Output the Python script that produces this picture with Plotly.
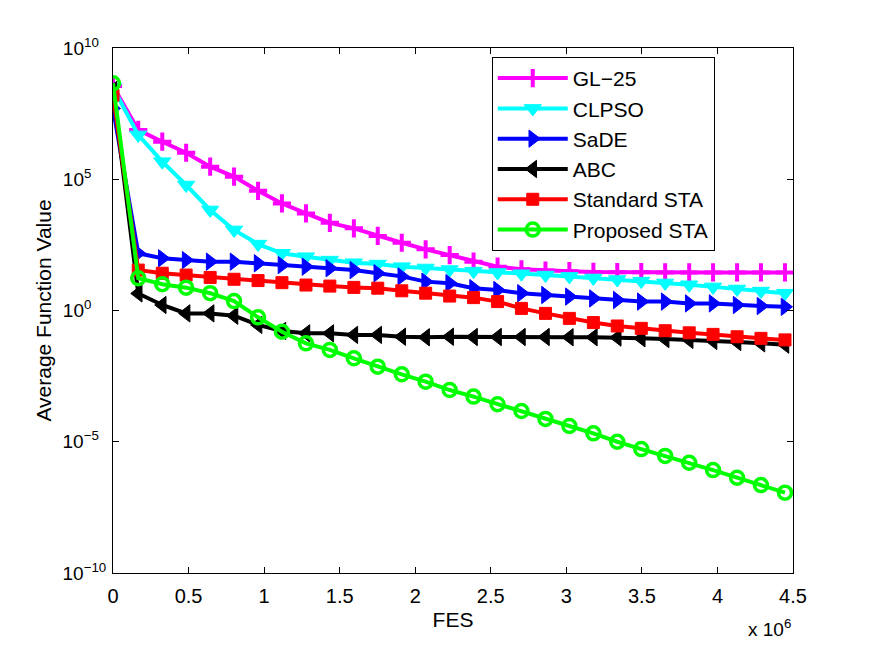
import plotly.graph_objects as go

# FES sample points (function evaluations)
fes = [0, 0.167e6, 0.326e6, 0.484e6, 0.643e6, 0.801e6, 0.960e6, 1.118e6, 1.277e6,
       1.435e6, 1.594e6, 1.752e6, 1.911e6, 2.069e6, 2.228e6, 2.386e6, 2.545e6,
       2.703e6, 2.862e6, 3.020e6, 3.179e6, 3.337e6, 3.496e6, 3.654e6, 3.813e6,
       3.971e6, 4.130e6, 4.288e6, 4.447e6]

# Average function values, given as log10 exponents
gl25_exp = [8.55, 6.88, 6.43, 6.01, 5.48, 5.10, 4.56, 4.08, 3.70, 3.34, 3.13, 2.84,
            2.58, 2.33, 2.11, 1.86, 1.67, 1.57, 1.52, 1.50, 1.47, 1.46, 1.46, 1.45,
            1.45, 1.45, 1.45, 1.45, 1.45]
clpso_exp = [8.50, 6.69, 5.67, 4.78, 3.83, 3.07, 2.53, 2.18, 2.05, 1.92, 1.82, 1.77,
             1.67, 1.62, 1.56, 1.50, 1.45, 1.40, 1.35, 1.30, 1.24, 1.18, 1.12, 1.05,
             0.98, 0.90, 0.82, 0.74, 0.66]
sade_exp = [7.70, 2.18, 1.99, 1.92, 1.86, 1.86, 1.80, 1.73, 1.67, 1.61, 1.54, 1.42,
            1.30, 1.10, 1.04, 0.85, 0.78, 0.66, 0.59, 0.53, 0.46, 0.40, 0.34, 0.34,
            0.27, 0.27, 0.21, 0.17, 0.14]
abc_exp = [8.40, 0.65, 0.21, -0.11, -0.11, -0.20, -0.55, -0.78, -0.87, -0.87, -0.93,
           -0.93, -1.00, -1.02, -1.00, -1.01, -1.01, -1.01, -1.01, -1.02, -1.02, -1.03,
           -1.06, -1.09, -1.12, -1.16, -1.20, -1.25, -1.30]
sta_exp = [8.20, 1.54, 1.42, 1.35, 1.26, 1.19, 1.14, 1.06, 0.97, 0.93, 0.88, 0.85,
           0.75, 0.66, 0.55, 0.49, 0.34, 0.08, -0.11, -0.30, -0.46, -0.59, -0.68,
           -0.77, -0.85, -0.91, -1.00, -1.06, -1.12]
psta_exp = [8.655, 1.23, 1.00, 0.87, 0.66, 0.36, -0.26, -0.81, -1.25, -1.50, -1.82,
            -2.14, -2.43, -2.71, -3.03, -3.28, -3.57, -3.83, -4.13, -4.40, -4.68,
            -5.00, -5.28, -5.54, -5.80, -6.08, -6.37, -6.65, -6.94]

names = ["GL\u221225", "CLPSO", "SaDE", "ABC", "Standard STA", "Proposed STA"]
series = [gl25_exp, clpso_exp, sade_exp, abc_exp, sta_exp, psta_exp]
colors = ["#ff00ff", "#00ffff", "#0000ff", "#000000", "#ff0000", "#00ff00"]
symbols = ["cross-thin", "triangle-down", "triangle-right", "triangle-left", "square", "circle-open"]
msizes = [13, 15, 15, 15, 12, 13]

x_tickvals = [0, 0.5e6, 1e6, 1.5e6, 2e6, 2.5e6, 3e6, 3.5e6, 4e6, 4.5e6]
x_ticktext = ["0", "0.5", "1", "1.5", "2", "2.5", "3", "3.5", "4", "4.5"]
NB = "\u00a0"
y_tickvals = [1e-10, 1e-5, 1e0, 1e5, 1e10]
# labels padded on the right so the "10" bases line up on the left, as in the reference
y_ticktext = ["10<sup>\u221210</sup>", "10<sup>\u22125" + NB * 2 + "</sup>",
              "10<sup>0" + NB * 4 + "</sup>", "10<sup>5" + NB * 4 + "</sup>",
              "10<sup>10" + NB * 2 + "</sup>"]

FONT = "Liberation Sans, Arial, Helvetica, sans-serif"

fig = go.Figure()
for i, (name, exps, col, sym, ms) in enumerate(zip(names, series, colors, symbols, msizes)):
    yvals = [10 ** e for e in exps]
    if sym == "cross-thin":
        marker = dict(symbol=sym, size=ms, color=col, line=dict(color=col, width=4))
    elif sym == "circle-open":
        marker = dict(symbol=sym, size=ms, color=col, line=dict(color=col, width=3.5))
    else:
        marker = dict(symbol=sym, size=ms, color=col, line=dict(color=col, width=1))
    fig.add_trace(go.Scatter(
        x=fes, y=yvals, name=name, mode="lines+markers",
        line=dict(color=col, width=4), marker=marker,
        legendgroup=f"g{i}",
    ))

fig.update_layout(
    width=875, height=646,
    margin=dict(l=113, r=82, t=48, b=73),
    paper_bgcolor="white", plot_bgcolor="white",
    font=dict(family=FONT, size=20, color="black"),
    showlegend=True,
    legend=dict(
        x=0.557, y=0.983, xanchor="left", yanchor="top",
        bgcolor="white", bordercolor="black", borderwidth=1,
        font=dict(family=FONT, size=21, color="black"),
        tracegroupgap=0, itemwidth=70,
    ),
    xaxis=dict(
        range=[0, 4.5e6], tickmode="array", tickvals=x_tickvals, ticktext=x_ticktext,
        ticks="inside", ticklen=6, tickcolor="black", showgrid=False, zeroline=False,
        showline=True, linecolor="black", linewidth=1, mirror="ticks",
        tickfont=dict(size=20),
        title=dict(text="FES", font=dict(size=21), standoff=6),
        ticklabelstandoff=5,
    ),
    yaxis=dict(
        type="log", range=[-10, 10], tickmode="array", tickvals=y_tickvals, ticktext=y_ticktext,
        ticks="inside", ticklen=6, tickcolor="black", showgrid=False, zeroline=False,
        showline=True, linecolor="black", linewidth=1, mirror="ticks",
        tickfont=dict(size=19),
        title=dict(text="Average Function Value", font=dict(size=21), standoff=5),
        ticklabelstandoff=2,
    ),
    annotations=[dict(
        text="x 10<sup>6</sup>", xref="paper", yref="paper", x=1.0, y=-0.105,
        xanchor="right", yanchor="middle", showarrow=False,
        font=dict(family=FONT, size=19, color="black"),
    )],
)

fig.write_html("out.html")
